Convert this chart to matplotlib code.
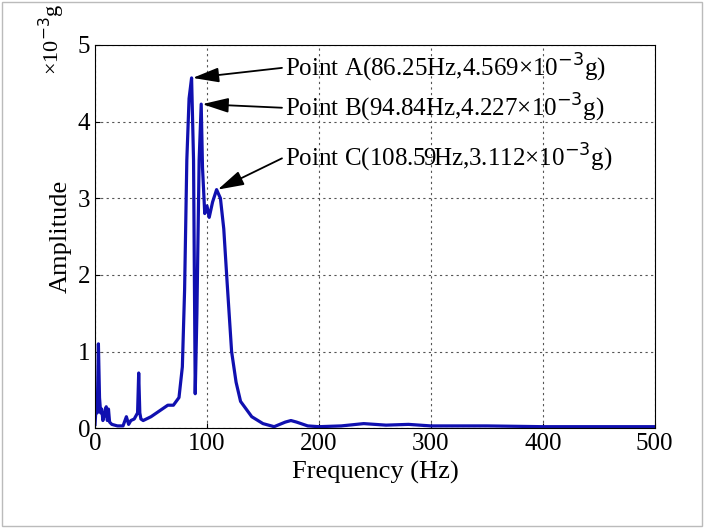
import matplotlib.pyplot as plt

plt.rcParams['font.family'] = ['Liberation Serif', 'DejaVu Serif']

# espectro de amplitud (x10^-3 g)
freq = [0, 1, 2, 3, 4, 5, 6, 7, 8, 10, 11, 12, 13, 15, 20, 25, 28, 30, 32, 35, 38, 39, 40, 41, 43,
        50, 60, 65, 70, 75, 78, 80, 82, 84, 86.25, 88, 89.5, 91, 93, 94.84, 96, 98, 100, 102, 105,
        108.59, 112, 115, 118, 122, 126, 130, 140, 150, 160, 170, 175, 180, 190, 200, 220, 240,
        260, 280, 300, 350, 400, 450, 500]
amp = [0.05, 0.3, 0.2, 1.1, 0.4, 0.2, 0.25, 0.1, 0.15, 0.28, 0.1, 0.25, 0.08, 0.05, 0.03, 0.03,
       0.15, 0.05, 0.1, 0.12, 0.2, 0.72, 0.2, 0.12, 0.1, 0.15, 0.25, 0.3, 0.3, 0.4, 0.8, 1.8, 3.5,
       4.3, 4.569, 3.5, 0.45, 1.5, 3.5, 4.227, 3.4, 2.8, 2.9, 2.75, 2.95, 3.112, 3.0, 2.6, 1.9, 1.0,
       0.6, 0.35, 0.15, 0.06, 0.02, 0.08, 0.1, 0.08, 0.03, 0.02, 0.03, 0.06, 0.04, 0.05, 0.03, 0.03,
       0.02, 0.02, 0.02]

puntos = [(86.25, 4.569, 'Point A(86.25Hz,4.569×10$^{-3}$g)', 4.70),
          (94.84, 4.227, 'Point B(94.84Hz,4.227×10$^{-3}$g)', 4.18),
          (108.59, 3.112, 'Point C(108.59Hz,3.112×10$^{-3}$g)', 3.52)]

fig = plt.figure(figsize=(7.04, 5.28), dpi=100)
ax = fig.add_axes([0.135, 0.189, 0.795, 0.726])
ax.plot(freq, amp, color='#1010b0', lw=2.3)
ax.set_xlim(0, 500)
ax.set_ylim(0, 5)
ax.set_xticks(range(0, 501, 100))
ax.set_yticks(range(0, 6))
ax.grid(True, linestyle=(0, (2, 3)), color='#555555', lw=0.8)
ax.tick_params(direction='in', labelsize=18)
ax.set_xlabel('Frequency (Hz)', fontsize=19)
ax.set_ylabel('Amplitude', fontsize=19)
fig.text(0.052, 0.925, '×10$^{-3}$g', rotation=90, fontsize=16, va='center')

for x, y, txt, ty in puntos:
    ax.text(170, ty, txt, fontsize=18, va='center', ha='left')
    ax.annotate('', xy=(x + 1, y), xytext=(167, ty),
                arrowprops=dict(arrowstyle='-|>,head_width=0.45,head_length=1.6',
                                color='black', lw=1.3, shrinkA=0, shrinkB=0))

fig.patches.append(plt.Rectangle((0.003, 0.003), 0.994, 0.994, transform=fig.transFigure,
                                 fill=False, edgecolor='#bbbbbb', lw=1))
plt.savefig('out.png')
